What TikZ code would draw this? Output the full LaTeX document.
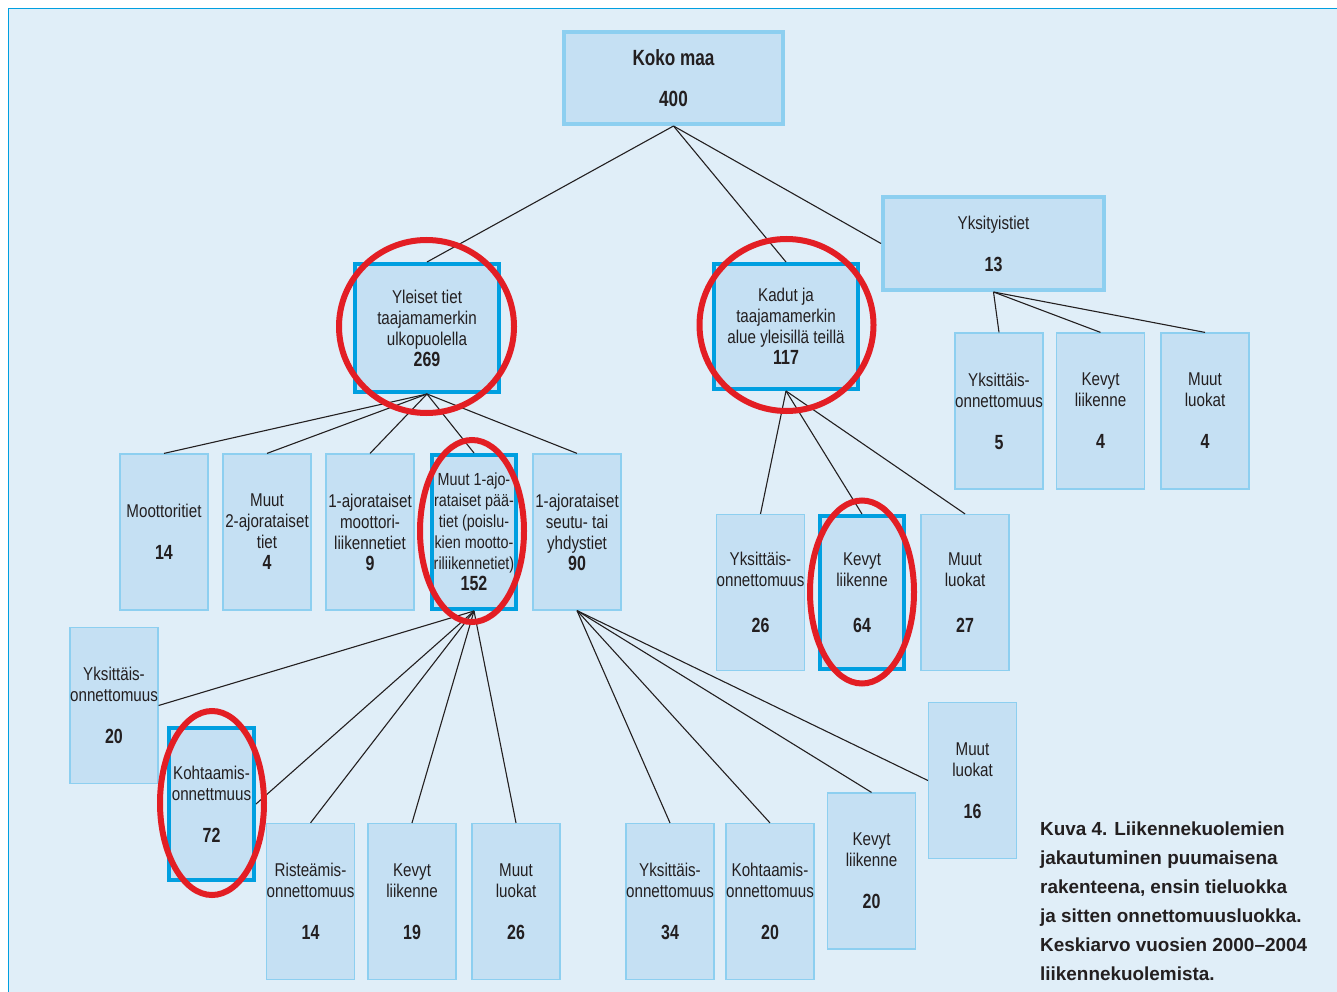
\documentclass[tikz,border=0pt]{standalone}
\usepackage{fontspec}
\setmainfont[FakeStretch=0.82,BoldFeatures={FakeStretch=0.78}]{Liberation Sans}
\newfontfamily\capfont{Liberation Sans}
\definecolor{panel}{RGB}{224,238,248}
\definecolor{boxfill}{RGB}{197,224,243}
\definecolor{edgelight}{RGB}{141,207,240}
\definecolor{cyanb}{RGB}{0,159,224}
\definecolor{ringred}{RGB}{227,30,36}
\definecolor{txt}{RGB}{35,31,32}
\newcommand\bignum[1]{{\fontsize{20.5}{21}\selectfont\bfseries #1}}
\tikzset{
  leaf/.style={draw=edgelight, fill=boxfill, line width=1.2pt, inner sep=0pt,
    align=center, text=txt, font=\fontsize{18.5}{21}\selectfont,
    minimum width=88pt, minimum height=156pt},
  hl/.style={draw=cyanb, line width=4pt},
  big/.style={draw=edgelight, line width=4pt},
  conn/.style={draw=txt, line width=1.1pt},
  ring/.style={draw=ringred, line width=6pt}
}
\begin{document}
\begin{tikzpicture}[x=1pt,y=-1pt]
\useasboundingbox (0,0) rectangle (1337,992);
\fill[white] (0,0) rectangle (1337,992);
\draw[draw=cyanb, fill=panel, line width=1.5pt] (8.5,8.5) rectangle (1350,1005);

% top
\node[leaf, big, minimum width=219pt, minimum height=92pt] (koko) at (673.5,78)
  {{\fontsize{22}{22}\selectfont\bfseries Koko maa}\\[20pt]{\fontsize{22}{22}\selectfont\bfseries 400}};
\node[leaf, hl, minimum width=144pt, minimum height=128pt] (yleiset) at (427,328)
  {Yleiset tiet\\taajamamerkin\\ulkopuolella\\\bignum{269}};
\node[leaf, hl, minimum width=144pt, minimum height=125pt] (kadut) at (786,326.5)
  {Kadut ja\\taajamamerkin\\alue yleisillä teillä\\\bignum{117}};
\node[leaf, big, minimum width=221pt, minimum height=93pt] (yksit) at (993.5,243.5)
  {Yksityistiet\\[21pt]\bignum{13}};

% Yksityistiet children
\node[leaf] (yc1) at (999,411) {Yksittäis-\\onnettomuus\\[21pt]\bignum{5}};
\node[leaf] (yc2) at (1100.5,411) {Kevyt\\liikenne\\[21pt]\bignum{4}};
\node[leaf] (yc3) at (1205,411) {Muut\\luokat\\[21pt]\bignum{4}};

% Yleiset children
\node[leaf] (moott) at (164,532) {Moottoritiet\\[21pt]\bignum{14}};
\node[leaf] (muut2) at (267,532) {Muut\\2-ajorataiset\\tiet\\\bignum{4}};
\node[leaf] (ajo1) at (370,532) {1-ajorataiset\\moottori-\\liikennetiet\\\bignum{9}};
\node[leaf, hl, minimum width=84pt, minimum height=154pt, font=\fontsize{17.5}{21}\selectfont] (muut1) at (474,532)
  {Muut 1-ajo-\\rataiset pää-\\tiet (poislu-\\kien mootto-\\riliikennetiet)\\\bignum{152}};
\node[leaf] (seutu) at (577,532) {1-ajorataiset\\seutu- tai\\yhdystiet\\\bignum{90}};

% Kadut children
\node[leaf] (k1) at (760.5,592.5) {Yksittäis-\\onnettomuus\\[25pt]\bignum{26}};
\node[leaf, hl, minimum width=84pt, minimum height=153pt] (k2) at (862,592.5) {Kevyt\\liikenne\\[25pt]\bignum{64}};
\node[leaf] (k3) at (965,592.5) {Muut\\luokat\\[25pt]\bignum{27}};

% Muut 1-ajo children
\node[leaf] (m1a) at (114,705.5) {Yksittäis-\\onnettomuus\\[21pt]\bignum{20}};
\node[leaf, hl, minimum width=85pt, minimum height=152pt] (m1b) at (211.5,804) {Kohtaamis-\\onnettmuus\\[21pt]\bignum{72}};
\node[leaf] (m1c) at (310.5,901.5) {Risteämis-\\onnettomuus\\[21pt]\bignum{14}};
\node[leaf] (m1d) at (412,901.5) {Kevyt\\liikenne\\[21pt]\bignum{19}};
\node[leaf] (m1e) at (516,901.5) {Muut\\luokat\\[21pt]\bignum{26}};

% Seutu children
\node[leaf] (s1) at (670,901.5) {Yksittäis-\\onnettomuus\\[21pt]\bignum{34}};
\node[leaf] (s2) at (770,901.5) {Kohtaamis-\\onnettomuus\\[21pt]\bignum{20}};
\node[leaf] (s3) at (871.5,871) {Kevyt\\liikenne\\[21pt]\bignum{20}};
\node[leaf] (s4) at (972.5,780.5) {Muut\\luokat\\[21pt]\bignum{16}};

% connectors
\draw[conn] (koko.south) -- (yleiset.north);
\draw[conn] (koko.south) -- (kadut.north);
\draw[conn] (koko.south) -- (yksit.west);
\foreach \c in {yc1,yc2,yc3} \draw[conn] (yksit.south) -- (\c.north);
\foreach \c in {moott,muut2,ajo1,muut1,seutu} \draw[conn] (yleiset.south) -- (\c.north);
\foreach \c in {k1,k2,k3} \draw[conn] (kadut.south) -- (\c.north);
\draw[conn] (muut1.south) -- (m1a.east);
\draw[conn] (muut1.south) -- (m1b.east);
\foreach \c in {m1c,m1d,m1e} \draw[conn] (muut1.south) -- (\c.north);
\foreach \c in {s1,s2,s3} \draw[conn] (seutu.south) -- (\c.north);
\draw[conn] (seutu.south) -- (s4.west);

% red rings
\draw[ring] (426.5,326.5) ellipse [x radius=87.5pt, y radius=86.5pt];
\draw[ring] (786.5,325) ellipse [x radius=87pt, y radius=86pt];
\draw[ring] (472,531) ellipse [x radius=52pt, y radius=91pt];
\draw[ring] (862,592) ellipse [x radius=52pt, y radius=91.5pt];
\draw[ring] (212,803) ellipse [x radius=52pt, y radius=92pt];

% caption
\node[anchor=north west, inner sep=0pt, align=left, text=txt,
  font=\capfont\bfseries\fontsize{18.9}{29}\selectfont] (cap) at (1040,822)
  {Kuva 4. Liikennekuolemien\\jakautuminen puumaisena\\rakenteena, ensin tieluokka\\ja sitten onnettomuusluokka.\\Keskiarvo vuosien 2000–2004\\liikennekuolemista.};
\end{tikzpicture}
\end{document}
